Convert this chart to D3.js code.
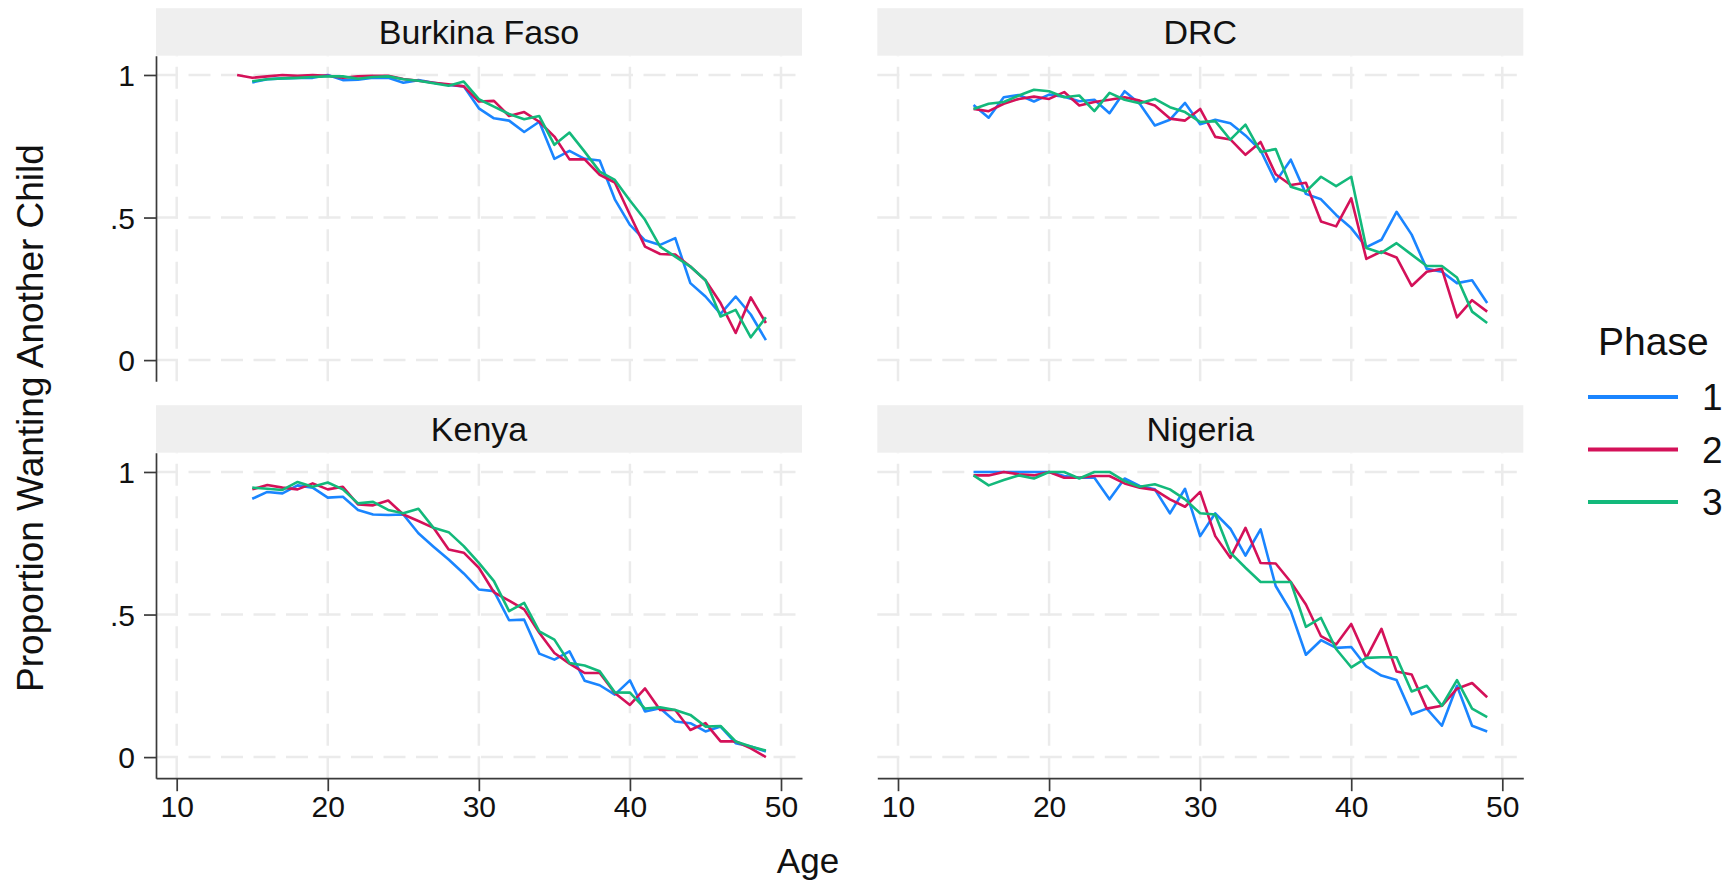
<!DOCTYPE html>
<html>
<head>
<meta charset="utf-8">
<script src="https://cdn.jsdelivr.net/npm/d3@7"></script>
<style>
  body { margin: 0; background: #fff; }
  text { font-family: "Liberation Sans", Arial, sans-serif; fill: #111; }
</style>
</head>
<body>
<script>
// data, one value per age (null = no point)
const ages = [14,15,16,17,18,19,20,21,22,23,24,25,26,27,28,29,30,31,32,33,34,35,36,37,38,39,40,41,42,43,44,45,46,47,48,49]
const countries = ["Burkina Faso","DRC","Kenya","Nigeria"]
const phases = ["1","2","3"]
const phaseColors = ["#1a85ff","#d41159","#13b97b"]

const burkina1 = [null,.974,.985,.988,.99,.99,1.0,.982,.983,.99,.99,.973,.982,.973,.965,.96,.883,.848,.84,.80,.836,.706,.734,.706,.70,.564,.474,.42,.404,.428,.27,.223,.162,.223,.16,.07]
const burkina2 = [1.0,.99,.995,1.0,.997,1.0,.997,.99,.995,.997,.997,.986,.98,.973,.967,.96,.907,.909,.856,.87,.836,.784,.704,.704,.65,.623,.51,.398,.372,.37,.328,.28,.2,.095,.22,.13]
const burkina3 = [null,.978,.985,.988,.99,.993,.995,.995,.987,.993,.995,.985,.98,.971,.962,.977,.915,.889,.863,.845,.856,.755,.798,.731,.661,.632,.56,.492,.398,.363,.328,.28,.153,.176,.08,.15]

const drc1 = [null,.895,.85,.922,.93,.907,.931,.924,.908,.913,.866,.943,.899,.823,.843,.902,.827,.843,.831,.788,.736,.626,.703,.583,.564,.509,.463,.396,.422,.52,.44,.32,.31,.27,.28,.20]
const drc2 = [null,.881,.873,.899,.916,.924,.916,.94,.893,.905,.913,.922,.91,.893,.847,.84,.881,.783,.774,.72,.765,.652,.614,.622,.486,.469,.567,.355,.381,.36,.26,.31,.32,.15,.21,.17]
const drc3 = [null,.881,.899,.905,.928,.948,.943,.922,.928,.873,.937,.913,.901,.916,.887,.870,.835,.838,.773,.826,.73,.74,.608,.591,.643,.61,.643,.393,.376,.41,.37,.33,.33,.29,.17,.13]

const kenya1 = [null,.906,.93,.925,.953,.945,.91,.913,.867,.851,.849,.851,.785,.738,.693,.644,.588,.582,.48,.482,.363,.342,.371,.268,.252,.219,.269,.16,.171,.125,.119,.09,.107,.049,.037,.02]
const kenya2 = [null,.939,.954,.945,.939,.96,.939,.948,.886,.883,.9,.851,.828,.804,.728,.717,.664,.578,.549,.518,.436,.365,.328,.295,.295,.225,.183,.241,.165,.165,.095,.119,.055,.055,.031,0]
const kenya3 = [null,.945,.941,.937,.965,.948,.963,.939,.89,.895,.867,.855,.871,.804,.789,.74,.681,.617,.512,.541,.441,.412,.33,.321,.301,.227,.226,.17,.175,.165,.148,.107,.109,.055,.037,.023]

const nigeria1 = [null,1,1,1,1,1,1,.986,.98,.98,.904,.977,.951,.939,.855,.941,.775,.855,.801,.707,.799,.6,.512,.359,.41,.383,.386,.318,.286,.27,.15,.17,.11,.25,.11,.09]
const nigeria2 = [null,.988,.988,1,.992,.988,1,.98,.98,.986,.986,.96,.945,.937,.904,.878,.93,.775,.699,.804,.681,.679,.614,.535,.424,.395,.467,.348,.45,.30,.29,.17,.18,.24,.26,.21]
const nigeria3 = [null,.988,.953,.972,.988,.977,1,1,.977,1,1,.968,.948,.957,.939,.904,.855,.851,.717,.664,.614,.614,.614,.457,.488,.379,.315,.348,.35,.35,.23,.25,.18,.27,.17,.14]

const xTicks = [10,20,30,40,50]
const yTicks = [0,.5,1]
const yTickLabels = ["0",".5","1"]

const series = {
  "Burkina Faso":[burkina1,burkina2,burkina3],
  "DRC":[drc1,drc2,drc3],
  "Kenya":[kenya1,kenya2,kenya3],
  "Nigeria":[nigeria1,nigeria2,nigeria3]
}

// layout
const width = 1725, height = 882
const panelW = 646, panelH = 325.5, stripH = 47.5
const colX = [156, 877.3]
const rowY = [55.7, 452.7]

const svg = d3.select("body").append("svg").attr("width",width).attr("height",height)
svg.append("rect").attr("width",width).attr("height",height).attr("fill","#fff")

const x = d3.scaleLinear().domain([8.63,51.39]).range([0,panelW])
const y = d3.scaleLinear().domain([-0.074,1.0676]).range([panelH,0])

const line = d3.line()
  .defined(d => d[1] != null)
  .x(d => x(d[0])).y(d => y(d[1]))

countries.forEach((c,i) => {
  const col = i % 2, row = Math.floor(i/2)
  const g = svg.append("g").attr("transform",`translate(${colX[col]},${rowY[row]})`)

  // strip
  g.append("rect").attr("x",0).attr("y",-stripH).attr("width",panelW).attr("height",stripH).attr("fill","#efefef")
  g.append("text").attr("x",panelW/2).attr("y",-stripH/2+12).attr("text-anchor","middle")
    .style("font-size","34px").text(c)

  // gridlines
  g.append("g").selectAll("line").data(yTicks).enter().append("line")
    .attr("x1",0).attr("x2",panelW).attr("y1",d=>y(d)).attr("y2",d=>y(d))
    .attr("stroke","#ebebeb").attr("stroke-width",2.5).attr("stroke-dasharray","22,10.5")
  g.append("g").selectAll("line").data(xTicks).enter().append("line")
    .attr("x1",d=>x(d)).attr("x2",d=>x(d)).attr("y1",panelH).attr("y2",0)
    .attr("stroke","#ebebeb").attr("stroke-width",2.5).attr("stroke-dasharray","22,10.5")

  // series
  series[c].forEach((vals,k) => {
    g.append("path").datum(ages.map((a,j)=>[a,vals[j]]))
      .attr("d",line).attr("fill","none")
      .attr("stroke",phaseColors[k]).attr("stroke-width",2.6).attr("stroke-linejoin","round")
  })

  // axes
  if (col === 0) {
    const ay = g.append("g").call(d3.axisLeft(y).tickValues(yTicks)
      .tickFormat((d,j)=>yTickLabels[j]).tickSize(12).tickSizeOuter(0).tickPadding(9))
    ay.selectAll("text").style("font-size","30px").attr("dy","0.36em")
    ay.selectAll("path,line").attr("stroke","#3a3a3a").attr("stroke-width",1.7)
  }
  if (row === 1) {
    const ax = g.append("g").attr("transform",`translate(0,${panelH})`)
      .call(d3.axisBottom(x).tickValues(xTicks).tickSize(13).tickSizeOuter(0).tickPadding(5))
    ax.selectAll("text").style("font-size","30px")
    ax.selectAll("path,line").attr("stroke","#3a3a3a").attr("stroke-width",1.7)
  }
  svg.selectAll(".tick text").attr("fill","#111")
})

// axis titles
svg.append("text").attr("transform","translate(43,418) rotate(-90)")
  .attr("text-anchor","middle").style("font-size","37px").text("Proportion Wanting Another Child")
svg.append("text").attr("x",808).attr("y",873).attr("text-anchor","middle")
  .style("font-size","35px").text("Age")

// legend
const legend = svg.append("g")
legend.append("text").attr("x",1598).attr("y",355).style("font-size","39px").text("Phase")
phases.forEach((p,k) => {
  const ly = 397 + k*52.5
  legend.append("line").attr("x1",1588).attr("x2",1678).attr("y1",ly).attr("y2",ly)
    .attr("stroke",phaseColors[k]).attr("stroke-width",3.8)
  legend.append("text").attr("x",1702).attr("y",ly+13).style("font-size","37px").text(p)
})
</script>
</body>
</html>
